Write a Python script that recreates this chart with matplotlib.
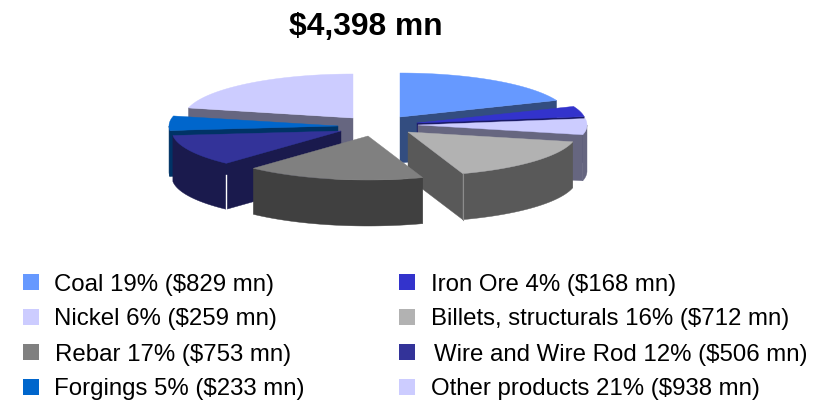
import numpy as np
import matplotlib
matplotlib.use("Agg")
import matplotlib.pyplot as plt
from matplotlib.patches import Polygon, Rectangle

plt.rcParams['font.family'] = ['Liberation Sans', 'DejaVu Sans']

# Data
title = "$4,398 mn"
products = ["Coal", "Iron Ore", "Nickel", "Billets, structurals", "Rebar",
            "Wire and Wire Rod", "Forgings", "Other products"]
percents = [19, 4, 6, 16, 17, 12, 5, 21]
values = [829, 168, 259, 712, 753, 506, 233, 938]

# Styles
top_colors = ["#6699FF", "#3333CC", "#CCCCFF", "#B2B2B2", "#808080", "#333399", "#0066CC", "#CCCCFF"]
side_colors = ["#334D80", "#1A1A66", "#666680", "#595959", "#404040", "#1A1A4D", "#003366", "#666680"]
# where each exploded slice has its tip, in pixels
tips = [(400, 117), (417, 123), (418, 125), (408, 132), (368, 136), (341, 131), (338, 126), (353, 118)]
draw_order = [7, 0, 1, 2, 6, 5, 3, 4]
rx, ry, depth = 169, 44, 46

fig = plt.figure(figsize=(8.27, 4.03), dpi=100)
ax = fig.add_axes([0, 0, 1, 1])
ax.set_xlim(0, 827)
ax.set_ylim(403, 0)
ax.axis("off")


# Point on the rim of a slice, angle clockwise from 12 o'clock
def rim(tip, angles):
    return tip[0] + rx * np.sin(angles), tip[1] - ry * np.cos(angles)


# Draw one slice of the fake 3D pie: walls first, then the top
def draw_slice(i, a1, a2, z):
    tip = tips[i]

    # radial walls, only the ones facing the viewer
    for a, facing in ((a1, np.sin(a1) < 0), (a2, np.sin(a2) > 0)):
        if facing:
            x, y = rim(tip, a)
            wall = [tip, (x, y), (x, y + depth), (tip[0], tip[1] + depth)]
            ax.add_patch(Polygon(wall, fc=side_colors[i], ec=side_colors[i], lw=0.3, zorder=z))

    # outer wall, only the front half of the rim
    lo, hi = max(a1, np.pi / 2), min(a2, 3 * np.pi / 2)
    if lo < hi:
        t = np.linspace(lo, hi, 60)
        x, y = rim(tip, t)
        wall = np.r_[np.c_[x, y], np.c_[x, y + depth][::-1]]
        ax.add_patch(Polygon(wall, fc=side_colors[i], ec=side_colors[i], lw=0.3, zorder=z))

    # top face
    t = np.linspace(a1, a2, 80)
    x, y = rim(tip, t)
    top = np.r_[[tip], np.c_[x, y]]
    ax.add_patch(Polygon(top, fc=top_colors[i], ec=top_colors[i], lw=0.3, zorder=z + 1))


edges = np.r_[0, np.cumsum(values)] / sum(values) * 2 * np.pi
for n, i in enumerate(draw_order):
    draw_slice(i, edges[i], edges[i + 1], 2 * n + 2)

# Thin highlight lines on the corners of the billets and wire slices
x, y = rim(tips[3], edges[4])
ax.plot([x, x], [y, y + depth], color="#8C8C8C", lw=0.8, zorder=15)
x, y = rim(tips[5], edges[5])
ax.plot([x, x], [y + 12, y + depth], color="white", lw=1.0, zorder=13)

ax.text(366, 27, title, ha="center", va="center", fontsize=22.9, fontweight="bold", parse_math=False)

# Legend, two columns read across
rows_y = [282, 317, 352, 387]
col_box_x = [23, 399]
col_text_x = [54, 431]
text_nudge = {4: 1, 5: 3}
for i, name in enumerate(products):
    col = i % 2
    yc = rows_y[i // 2]
    ax.add_patch(Rectangle((col_box_x[col], yc - 8), 16, 16, fc=top_colors[i], ec="none"))
    label = f"{name} {percents[i]}% (${values[i]} mn)"
    ax.text(col_text_x[col] + text_nudge.get(i, 0), yc + 2.5, label, ha="left", va="center",
            fontsize=17.25, color="black", parse_math=False)

fig.savefig("out.png", dpi=100)
